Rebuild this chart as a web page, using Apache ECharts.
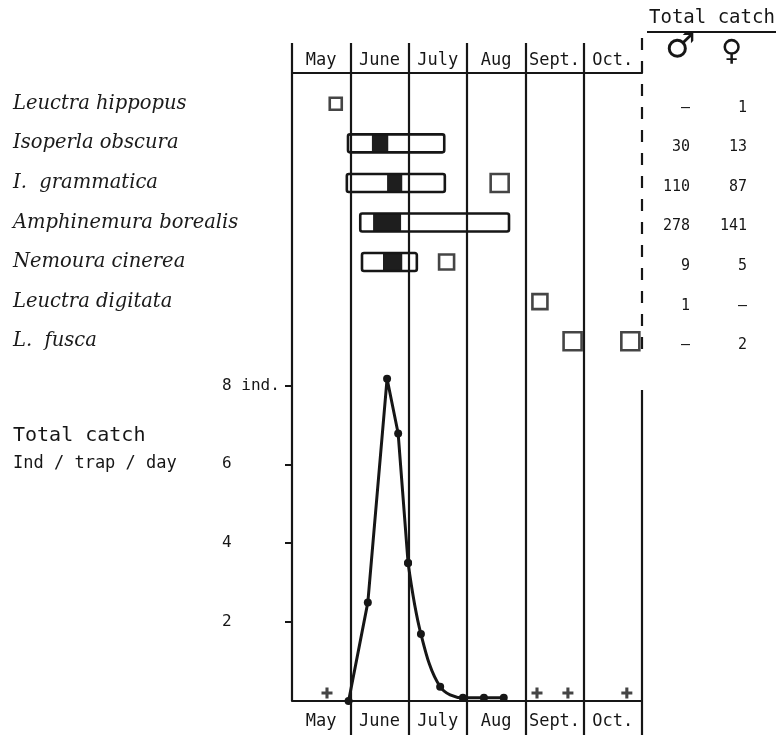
<!DOCTYPE html>
<html>
<head>
<meta charset="utf-8">
<script src="https://cdn.jsdelivr.net/npm/echarts@6/dist/echarts.min.js"></script>
<style>html,body{margin:0;padding:0;background:#fff}#main{width:778px;height:735px}</style>
</head>
<body>
<div id="main"></div>
<script>
// ---- data ----
const months = ['May', 'June', 'July', 'Aug', 'Sept.', 'Oct.'];
const species = ['Leuctra hippopus', 'Isoperla obscura', 'I.  grammatica', 'Amphinemura borealis', 'Nemoura cinerea', 'Leuctra digitata', 'L.  fusca'];
const maleCatch = ['–', '30', '110', '278', '9', '1', '–'];
const femaleCatch = ['1', '13', '87', '141', '5', '–', '2'];
// flight period: [species index, start, end, main period start, main period end] (months after 1 May)
const flightBars = [
  [1, 0.96, 2.61, 1.37, 1.65],
  [2, 0.94, 2.62, 1.63, 1.89],
  [3, 1.17, 3.72, 1.39, 1.87],
  [4, 1.20, 2.14, 1.56, 1.89]
];
// single catches: [date (months after 1 May), species index]
const singleCatches = [[0.75, 0], [3.56, 2], [2.65, 4], [4.25, 5], [4.81, 6], [5.80, 6]];
// total catch per trap per day
const catchDate = [0.97, 1.30, 1.63, 1.82, 1.99, 2.21, 2.54, 2.93, 3.29, 3.63];
const catchRate = [0, 2.5, 8.17, 6.78, 3.5, 1.7, 0.36, 0.08, 0.08, 0.08];
const zeroCatchDates = [0.60, 4.20, 4.73, 5.74];
const rateTicks = [2, 4, 6, 8];
const rateTickLabels = ['2', '4', '6', '8 ind.'];

const MONO = 'DejaVu Sans Mono';
const INK = '#161616';
const monthCenters = months.map((_, i) => i + 0.5);
const riseData = catchDate.slice(0, 5).map((d, i) => [d, catchRate[i]]);
const fallData = catchDate.slice(4).map((d, i) => [d, catchRate[i + 4]]);

const chart = echarts.init(document.getElementById('main'), null, {renderer: 'canvas'});

const option = {
  animation: false,
  backgroundColor: '#fff',
  grid: [
    {left: 292, right: 136, top: 43, bottom: 0},
    {left: 292, right: 136, top: 84, height: 277},
    {left: 292, right: 136, top: 346, bottom: 34}
  ],
  xAxis: [
    {gridIndex: 0, type: 'value', min: 0, max: 6, interval: 1,
      axisLine: {show: false}, axisTick: {show: false}, axisLabel: {show: false},
      splitLine: {show: true, showMinLine: false, showMaxLine: false, lineStyle: {color: INK, width: 2.2}}},
    {gridIndex: 1, type: 'value', min: 0, max: 6, position: 'top', offset: 11,
      axisLine: {show: true, lineStyle: {color: INK, width: 2.2}}, axisTick: {show: false},
      splitLine: {show: false},
      axisLabel: {customValues: monthCenters, formatter: v => months[Math.floor(v)],
        margin: 4, fontFamily: MONO, fontSize: 17, color: INK}},
    {gridIndex: 2, type: 'value', min: 0, max: 6, position: 'bottom',
      axisLine: {show: true, lineStyle: {color: INK, width: 2.2}}, axisTick: {show: false},
      splitLine: {show: false},
      axisLabel: {customValues: monthCenters, formatter: v => months[Math.floor(v)],
        margin: 12, fontFamily: MONO, fontSize: 17, color: INK}}
  ],
  yAxis: [
    {gridIndex: 0, type: 'value', min: 0, max: 1, show: false},
    {gridIndex: 1, type: 'category', data: species, inverse: true,
      axisLine: {show: false}, axisTick: {show: false}, splitLine: {show: false},
      axisLabel: {align: 'left', margin: 279, fontFamily: 'DejaVu Serif', fontStyle: 'italic',
        fontSize: 19.5, color: '#1a1a1a'}},
    {gridIndex: 1, type: 'category', data: species, inverse: true, position: 'right',
      axisLine: {show: false}, axisTick: {show: false}, splitLine: {show: false},
      axisLabel: {margin: 0, padding: [8, 0, 0, 0],
        formatter: (v, i) => '{m|' + maleCatch[i] + '}{f|' + femaleCatch[i] + '}',
        rich: {
          m: {width: 48, align: 'right', fontFamily: MONO, fontSize: 15, color: INK},
          f: {width: 57, align: 'right', fontFamily: MONO, fontSize: 15, color: INK}
        }}},
    {gridIndex: 2, type: 'value', min: 0, max: 9,
      axisLine: {show: false}, splitLine: {show: false},
      axisTick: {show: true, customValues: rateTicks, length: 7, lineStyle: {color: INK, width: 2}},
      axisLabel: {customValues: rateTicks, formatter: v => rateTickLabels[rateTicks.indexOf(v)],
        align: 'left', margin: 70, fontFamily: MONO, fontSize: 16, color: INK}}
  ],
  series: [
    {type: 'custom', xAxisIndex: 1, yAxisIndex: 1, data: flightBars,
      encode: {x: [1, 2, 3, 4], y: 0}, z: 5,
      renderItem: (params, api) => {
        const row = api.value(0);
        const a = api.coord([api.value(1), row]);
        const b = api.coord([api.value(2), row]);
        const c = api.coord([api.value(3), row]);
        const d = api.coord([api.value(4), row]);
        const h = 18;
        return {type: 'group', children: [
          {type: 'rect', shape: {x: c[0], y: a[1] - h / 2, width: d[0] - c[0], height: h},
            style: {fill: '#1e1e1e'}},
          {type: 'rect', shape: {x: a[0], y: a[1] - h / 2, width: b[0] - a[0], height: h, r: 2},
            style: {fill: 'none', stroke: INK, lineWidth: 2.6}}
        ]};
      }},
    {type: 'scatter', xAxisIndex: 1, yAxisIndex: 1, data: singleCatches, z: 5,
      symbol: 'rect',
      symbolSize: (v) => v[1] === 0 ? 12 : (v[1] === 2 || v[1] === 6 ? 18 : 15),
      itemStyle: {color: 'rgba(0,0,0,0)', borderColor: INK, borderWidth: 2.6}},
    {type: 'line', xAxisIndex: 2, yAxisIndex: 3, data: riseData, z: 6,
      symbol: 'circle', symbolSize: 8, showSymbol: true,
      lineStyle: {color: INK, width: 3}, itemStyle: {color: INK}},
    {type: 'line', xAxisIndex: 2, yAxisIndex: 3, data: fallData, z: 6, smooth: 0.35,
      symbol: 'circle', symbolSize: 8, showSymbol: true,
      lineStyle: {color: INK, width: 3}, itemStyle: {color: INK}},
    {type: 'scatter', xAxisIndex: 2, yAxisIndex: 3, z: 6,
      data: zeroCatchDates.map(d => [d, 0]),
      symbol: 'path://M3.6,0H6.4V3.6H10V6.4H6.4V10H3.6V6.4H0V3.6H3.6Z', symbolSize: 11, symbolOffset: [0, -8],
      itemStyle: {color: INK}}
  ]
};
chart.setOption(option);

const x0 = chart.convertToPixel({xAxisIndex: 0}, 0);
const x6 = chart.convertToPixel({xAxisIndex: 0}, 6);
const yBase = chart.convertToPixel({yAxisIndex: 3}, 0);
chart.setOption({
  graphic: [
    {type: 'line', shape: {x1: x0, y1: 43, x2: x0, y2: yBase}, style: {stroke: INK, lineWidth: 2.2}},
    {type: 'line', shape: {x1: x6, y1: 38, x2: x6, y2: 352}, style: {stroke: INK, lineWidth: 2.2, lineDash: [12, 11]}},
    {type: 'line', shape: {x1: x6, y1: 390, x2: x6, y2: 735}, style: {stroke: INK, lineWidth: 2.2}},
    {type: 'text', left: 649, top: 9, style: {text: 'Total catch', font: '19px "' + MONO + '"', fill: INK}},
    {type: 'line', shape: {x1: 647, y1: 32, x2: 776, y2: 32}, style: {stroke: INK, lineWidth: 2}},
    {type: 'text', left: 665, top: 31, style: {text: '♂', font: 'bold 34px "DejaVu Sans"', fill: INK}},
    {type: 'text', left: 721, top: 38, style: {text: '♀', font: 'bold 29px "DejaVu Sans"', fill: INK}},
    {type: 'text', left: 13, top: 426, style: {text: 'Total catch', font: '20px "' + MONO + '"', fill: INK}},
    {type: 'text', left: 13, top: 455, style: {text: 'Ind / trap / day', font: '17px "' + MONO + '"', fill: INK}}
  ]
});
</script>
</body>
</html>
